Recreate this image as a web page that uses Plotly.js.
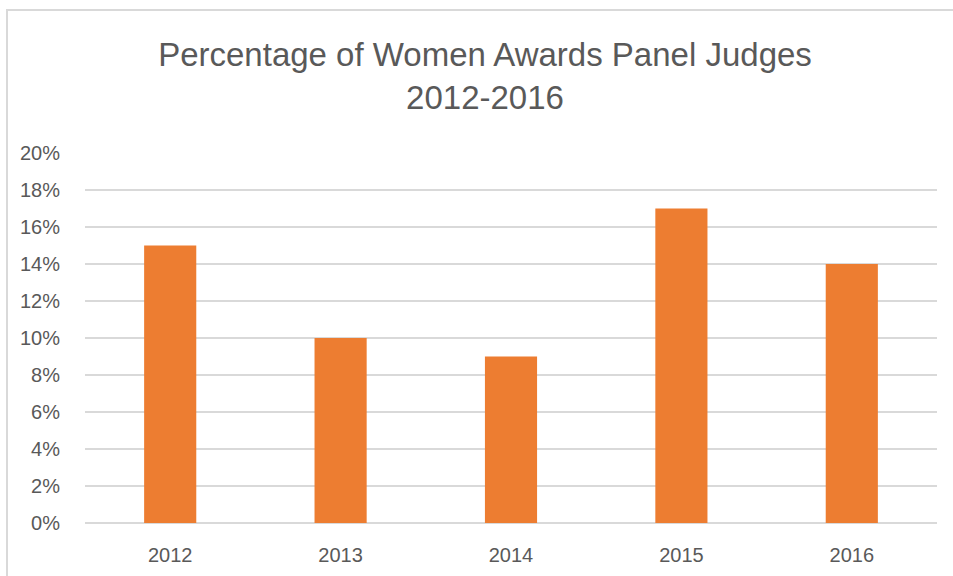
<!DOCTYPE html>
<html>
<head>
<meta charset="utf-8">
<script src="https://cdn.plot.ly/plotly-3.0.1.min.js"></script>
<style>
  html, body { margin: 0; padding: 0; background: #fff; overflow: hidden; }
  #wrap { position: relative; width: 953px; height: 576px; }
  #chart { position: absolute; left: 0; top: 0; width: 953px; height: 576px; }
  #frame { position: absolute; left: 6px; top: 9px; width: 1000px; height: 700px;
           border: 2px solid #d9d9d9; box-sizing: border-box; pointer-events: none; }
</style>
</head>
<body>
<div id="wrap">
  <div id="chart"></div>
  <div id="frame"></div>
</div>
<script>
const years = ['2012', '2013', '2014', '2015', '2016'];
const womenShare = [0.15, 0.10, 0.09, 0.17, 0.14];
const yTickVals = [0, 0.02, 0.04, 0.06, 0.08, 0.10, 0.12, 0.14, 0.16, 0.18, 0.20];
const yTickText = ['0%', '2%', '4%', '6%', '8%', '10%', '12%', '14%', '16%', '18%', '20%'];
const titleText = 'Percentage of Women Awards Panel Judges<br>2012-2016';

const font = 'Liberation Sans, Arial, sans-serif';
const data = [{
  type: 'bar',
  x: years,
  y: womenShare,
  marker: { color: '#ED7D31', line: { width: 0 } },
  hoverinfo: 'skip'
}];
const layout = {
  width: 953, height: 576,
  margin: { l: 85, r: 16, t: 153, b: 53 },
  paper_bgcolor: 'rgba(0,0,0,0)',
  plot_bgcolor: '#fff',
  bargap: 0.694,
  showlegend: false,
  title: {
    text: titleText,
    x: 485 / 953, xref: 'container', xanchor: 'center',
    y: 1 - 66 / 576, yref: 'container', yanchor: 'top',
    font: { family: font, size: 33, color: '#595959' }
  },
  xaxis: {
    type: 'category',
    showgrid: false, zeroline: false, showline: false,
    ticks: 'outside', ticklen: 14, tickcolor: 'rgba(0,0,0,0)',
    tickfont: { family: font, size: 20, color: '#595959' }
  },
  yaxis: {
    range: [0, 0.2],
    tickvals: yTickVals, ticktext: yTickText,
    showgrid: true, gridcolor: '#d9d9d9', gridwidth: 2,
    zeroline: true, zerolinecolor: '#d9d9d9', zerolinewidth: 2,
    showline: false,
    ticks: 'outside', ticklen: 20, tickcolor: 'rgba(0,0,0,0)',
    tickfont: { family: font, size: 20, color: '#595959' }
  }
};
Plotly.newPlot('chart', data, layout, { staticPlot: true, displayModeBar: false });
</script>
</body>
</html>
